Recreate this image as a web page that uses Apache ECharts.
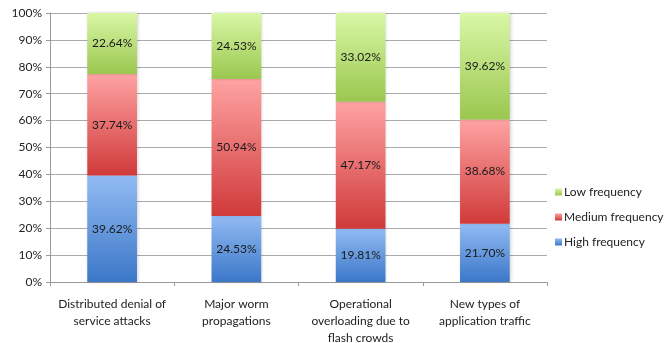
<!DOCTYPE html>
<html>
<head>
<meta charset="utf-8">
<script src="https://cdn.jsdelivr.net/npm/echarts@6/dist/echarts.min.js"></script>
<style>
  html, body { margin: 0; padding: 0; background: #fff; }
  #chart { width: 665px; height: 343px; }
</style>
</head>
<body>
<div id="chart"></div>
<script>
const categories = [
  "Distributed denial of\nservice attacks",
  "Major worm\npropagations",
  "Operational\noverloading due to\nflash crowds",
  "New types of\napplication traffic"
];
const highFreq = [39.62, 24.53, 19.81, 21.70];
const mediumFreq = [37.74, 50.94, 47.17, 38.68];
const lowFreq = [22.64, 24.53, 33.02, 39.62];

const font = "Lato, 'Liberation Sans', sans-serif";

const grad = (top, bottom) =>
  new echarts.graphic.LinearGradient(0, 0, 0, 1, [
    { offset: 0, color: top },
    { offset: 1, color: bottom },
  ]);

const makeSeries = (name, data, top, bottom) => ({
  name: name,
  type: "bar",
  stack: "total",
  barWidth: "40%",
  data: data,
  itemStyle: {
    color: grad(top, bottom),
    shadowColor: "rgba(0,0,0,0.18)",
    shadowBlur: 3,
    shadowOffsetX: 1,
  },
  label: {
    show: true,
    position: "inside",
    formatter: (p) => p.value.toFixed(2) + "%",
    color: "#1a1a1a",
    fontSize: 12,
    fontFamily: font,
  },
});

const myChart = echarts.init(document.getElementById("chart"));
const option = {
  animation: false,
  grid: { left: 50, right: 118, top: 13, bottom: 61, outerBoundsMode: "none", containLabel: false },
  legend: {
    orient: "vertical",
    left: 550,
    top: 181,
    itemWidth: 7,
    itemHeight: 7,
    itemGap: 13,
    icon: "rect",
    data: ["Low frequency", "Medium frequency", "High frequency"],
    textStyle: {
      fontSize: 12,
      fontFamily: font,
      color: "#222",
      padding: [0, 0, 0, -3],
    },
  },
  xAxis: {
    type: "category",
    data: categories,
    axisLine: { lineStyle: { color: "#999" } },
    axisTick: { show: true, length: 4, lineStyle: { color: "#999" } },
    axisLabel: {
      interval: 0,
      margin: 14,
      fontSize: 12,
      lineHeight: 17,
      fontFamily: font,
      color: "#222",
    },
  },
  yAxis: {
    type: "value",
    min: 0,
    max: 100,
    interval: 10,
    axisLine: { show: true, lineStyle: { color: "#999" } },
    axisTick: { show: true, length: 4, lineStyle: { color: "#999" } },
    axisLabel: {
      formatter: "{value}%",
      fontSize: 12,
      fontFamily: font,
      color: "#222",
      margin: 8,
    },
    splitLine: { lineStyle: { color: "#aaa" } },
  },
  series: [
    makeSeries("High frequency", highFreq, "#92bbf3", "#3b77c8"),
    makeSeries("Medium frequency", mediumFreq, "#ffa3a3", "#d03a3a"),
    makeSeries("Low frequency", lowFreq, "#d9f7a6", "#9ac74f"),
  ],
};
myChart.setOption(option);
</script>
</body>
</html>
